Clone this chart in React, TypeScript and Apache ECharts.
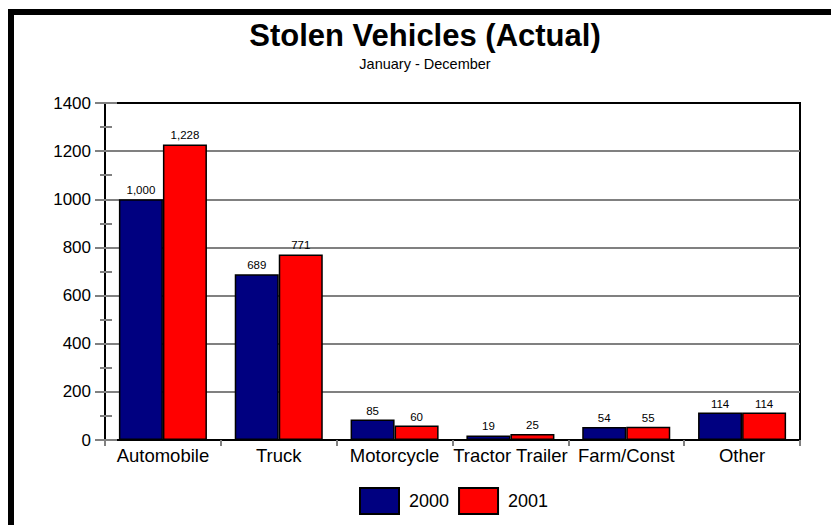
import React, { useEffect, useRef } from "react";
import * as echarts from "echarts";

const categories = ["Automobile", "Truck", "Motorcycle", "Tractor Trailer", "Farm/Const", "Other"];
const seriesNames = ["2000", "2001"];
const values2000 = [1000, 689, 85, 19, 54, 114];
const values2001 = [1228, 771, 60, 25, 55, 114];
const seriesColors = ["#000080", "#FF0000"];
const titleText = "Stolen Vehicles (Actual)";
const subtitleText = "January - December";

const FONT = "'Liberation Sans', Arial, Helvetica, sans-serif";
const W = 822;
const H = 540;

export default function App() {
  const ref = useRef<HTMLDivElement>(null);
  useEffect(() => {
    if (!ref.current) return;
    const chart = echarts.init(ref.current, undefined, { renderer: "svg" });
    const gray = "#808080";
    const fmt = (p: any) => Number(p.value).toLocaleString("en-US");
    chart.setOption({
      animation: false,
      backgroundColor: "#ffffff",
      title: [
        {
          text: titleText,
          left: "center",
          top: 5,
          padding: 0,
          textStyle: { fontFamily: FONT, fontSize: 31, fontWeight: "bold", color: "#000" },
        },
        {
          text: subtitleText,
          left: "center",
          top: 41,
          padding: 0,
          textStyle: { fontFamily: FONT, fontSize: 14.5, fontWeight: "normal", color: "#000" },
        },
      ],
      legend: {
        data: seriesNames,
        left: 345,
        top: 472,
        padding: 0,
        itemWidth: 39,
        itemHeight: 26,
        itemGap: 9,
        icon: "rect",
        itemStyle: { borderColor: "#000", borderWidth: 2 },
        textStyle: { fontFamily: FONT, fontSize: 18, color: "#000", padding: [0, 0, 0, 5] },
      },
      grid: {
        left: 91,
        top: 88,
        width: 695,
        height: 337,
        show: true,
        borderColor: "#000",
        borderWidth: 2,
        backgroundColor: "transparent",
      },
      xAxis: {
        type: "category",
        data: categories,
        axisLine: { lineStyle: { color: "#000", width: 2 } },
        axisTick: { show: true, length: 6, lineStyle: { color: gray, width: 2 } },
        axisLabel: { fontFamily: FONT, fontSize: 18.5, color: "#000", margin: 6, interval: 0 },
        splitLine: { show: false },
      },
      yAxis: [
        {
          type: "value",
          min: 0,
          max: 1400,
          interval: 200,
          axisLine: { show: true, lineStyle: { color: "#000", width: 2 } },
          axisTick: { show: true, length: 10, lineStyle: { color: gray, width: 2 } },
          minorTick: { show: true, splitNumber: 2, length: 5, lineStyle: { color: gray, width: 2 } },
          axisLabel: {
            fontFamily: FONT,
            fontSize: 17,
            color: "#000",
            margin: 14,
            formatter: (v: number) => String(v),
          },
          splitLine: {
            show: true,
            lineStyle: {
              color: [gray, gray, gray, gray, gray, gray, gray, "#000"],
              width: 2,
            },
          },
        },
        {
          type: "value",
          min: 0,
          max: 1400,
          interval: 200,
          position: "left",
          axisLine: { show: false },
          axisTick: { show: true, inside: true, length: 12, lineStyle: { color: gray, width: 2 } },
          minorTick: { show: true, splitNumber: 2, length: 7, lineStyle: { color: gray, width: 2 } },
          axisLabel: { show: false },
          splitLine: { show: false },
        },
      ],
      series: [
        {
          name: seriesNames[0],
          type: "bar",
          data: values2000,
          yAxisIndex: 0,
          barGap: "0%",
          barCategoryGap: "24%",
          itemStyle: { color: seriesColors[0], borderColor: "#000", borderWidth: 1.5 },
          label: { show: true, position: "top", distance: 3, fontFamily: FONT, fontSize: 11.5, color: "#000", formatter: fmt },
        },
        {
          name: seriesNames[1],
          type: "bar",
          data: values2001,
          yAxisIndex: 0,
          barGap: "0%",
          barCategoryGap: "24%",
          itemStyle: { color: seriesColors[1], borderColor: "#000", borderWidth: 1.5 },
          label: { show: true, position: "top", distance: 3, fontFamily: FONT, fontSize: 11.5, color: "#000", formatter: fmt },
        },
      ],
    });
    return () => chart.dispose();
  }, []);

  return (
    <div style={{ position: "fixed", left: 0, top: 0, width: 831, height: 525, overflow: "hidden", background: "#fff" }}>
      <div
        style={{
          position: "absolute",
          left: 8,
          top: 9,
          border: "6px solid #000",
          width: W,
          height: H,
          background: "#fff",
        }}
      >
        <div ref={ref} style={{ width: W, height: H }} />
      </div>
    </div>
  );
}
